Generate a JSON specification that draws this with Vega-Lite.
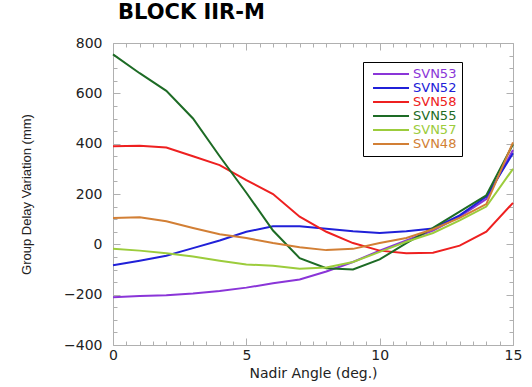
{
  "$schema": "https://vega.github.io/schema/vega-lite/v6.json",
  "width": 400,
  "height": 302,
  "autosize": "none",
  "padding": {"left": 113, "top": 43, "right": 19, "bottom": 42},
  "background": "white",
  "title": {"text": "BLOCK IIR-M", "anchor": "start", "frame": "group", "dx": 5, "offset": 13, "font": "DejaVu Sans", "fontSize": 21, "fontWeight": "bold", "color": "black"},
  "datasets": {
    "gdv": [
      {"series": "SVN53", "angle": 0, "gdv": -210}, {"series": "SVN53", "angle": 1, "gdv": -205}, {"series": "SVN53", "angle": 2, "gdv": -202}, {"series": "SVN53", "angle": 3, "gdv": -195}, {"series": "SVN53", "angle": 4, "gdv": -185}, {"series": "SVN53", "angle": 5, "gdv": -172}, {"series": "SVN53", "angle": 6, "gdv": -155}, {"series": "SVN53", "angle": 7, "gdv": -140}, {"series": "SVN53", "angle": 8, "gdv": -108}, {"series": "SVN53", "angle": 9, "gdv": -70}, {"series": "SVN53", "angle": 10, "gdv": -25}, {"series": "SVN53", "angle": 11, "gdv": 15}, {"series": "SVN53", "angle": 12, "gdv": 55}, {"series": "SVN53", "angle": 13, "gdv": 110}, {"series": "SVN53", "angle": 14, "gdv": 180}, {"series": "SVN53", "angle": 15, "gdv": 375},
      {"series": "SVN52", "angle": 0, "gdv": -83}, {"series": "SVN52", "angle": 1, "gdv": -65}, {"series": "SVN52", "angle": 2, "gdv": -45}, {"series": "SVN52", "angle": 3, "gdv": -15}, {"series": "SVN52", "angle": 4, "gdv": 15}, {"series": "SVN52", "angle": 5, "gdv": 50}, {"series": "SVN52", "angle": 6, "gdv": 72}, {"series": "SVN52", "angle": 7, "gdv": 72}, {"series": "SVN52", "angle": 8, "gdv": 62}, {"series": "SVN52", "angle": 9, "gdv": 52}, {"series": "SVN52", "angle": 10, "gdv": 45}, {"series": "SVN52", "angle": 11, "gdv": 52}, {"series": "SVN52", "angle": 12, "gdv": 63}, {"series": "SVN52", "angle": 13, "gdv": 115}, {"series": "SVN52", "angle": 14, "gdv": 190}, {"series": "SVN52", "angle": 15, "gdv": 362},
      {"series": "SVN58", "angle": 0, "gdv": 390}, {"series": "SVN58", "angle": 1, "gdv": 392}, {"series": "SVN58", "angle": 2, "gdv": 385}, {"series": "SVN58", "angle": 3, "gdv": 350}, {"series": "SVN58", "angle": 4, "gdv": 315}, {"series": "SVN58", "angle": 5, "gdv": 255}, {"series": "SVN58", "angle": 6, "gdv": 200}, {"series": "SVN58", "angle": 7, "gdv": 110}, {"series": "SVN58", "angle": 8, "gdv": 50}, {"series": "SVN58", "angle": 9, "gdv": 5}, {"series": "SVN58", "angle": 10, "gdv": -25}, {"series": "SVN58", "angle": 11, "gdv": -35}, {"series": "SVN58", "angle": 12, "gdv": -33}, {"series": "SVN58", "angle": 13, "gdv": -5}, {"series": "SVN58", "angle": 14, "gdv": 50}, {"series": "SVN58", "angle": 15, "gdv": 165},
      {"series": "SVN55", "angle": 0, "gdv": 755}, {"series": "SVN55", "angle": 1, "gdv": 680}, {"series": "SVN55", "angle": 2, "gdv": 610}, {"series": "SVN55", "angle": 3, "gdv": 500}, {"series": "SVN55", "angle": 4, "gdv": 350}, {"series": "SVN55", "angle": 5, "gdv": 205}, {"series": "SVN55", "angle": 6, "gdv": 55}, {"series": "SVN55", "angle": 7, "gdv": -55}, {"series": "SVN55", "angle": 8, "gdv": -95}, {"series": "SVN55", "angle": 9, "gdv": -100}, {"series": "SVN55", "angle": 10, "gdv": -60}, {"series": "SVN55", "angle": 11, "gdv": 5}, {"series": "SVN55", "angle": 12, "gdv": 65}, {"series": "SVN55", "angle": 13, "gdv": 130}, {"series": "SVN55", "angle": 14, "gdv": 195}, {"series": "SVN55", "angle": 15, "gdv": 398},
      {"series": "SVN57", "angle": 0, "gdv": -18}, {"series": "SVN57", "angle": 1, "gdv": -25}, {"series": "SVN57", "angle": 2, "gdv": -35}, {"series": "SVN57", "angle": 3, "gdv": -48}, {"series": "SVN57", "angle": 4, "gdv": -65}, {"series": "SVN57", "angle": 5, "gdv": -80}, {"series": "SVN57", "angle": 6, "gdv": -85}, {"series": "SVN57", "angle": 7, "gdv": -97}, {"series": "SVN57", "angle": 8, "gdv": -92}, {"series": "SVN57", "angle": 9, "gdv": -70}, {"series": "SVN57", "angle": 10, "gdv": -30}, {"series": "SVN57", "angle": 11, "gdv": 10}, {"series": "SVN57", "angle": 12, "gdv": 45}, {"series": "SVN57", "angle": 13, "gdv": 95}, {"series": "SVN57", "angle": 14, "gdv": 150}, {"series": "SVN57", "angle": 15, "gdv": 300},
      {"series": "SVN48", "angle": 0, "gdv": 105}, {"series": "SVN48", "angle": 1, "gdv": 108}, {"series": "SVN48", "angle": 2, "gdv": 92}, {"series": "SVN48", "angle": 3, "gdv": 65}, {"series": "SVN48", "angle": 4, "gdv": 40}, {"series": "SVN48", "angle": 5, "gdv": 25}, {"series": "SVN48", "angle": 6, "gdv": 5}, {"series": "SVN48", "angle": 7, "gdv": -12}, {"series": "SVN48", "angle": 8, "gdv": -23}, {"series": "SVN48", "angle": 9, "gdv": -18}, {"series": "SVN48", "angle": 10, "gdv": 5}, {"series": "SVN48", "angle": 11, "gdv": 25}, {"series": "SVN48", "angle": 12, "gdv": 60}, {"series": "SVN48", "angle": 13, "gdv": 105}, {"series": "SVN48", "angle": 14, "gdv": 160}, {"series": "SVN48", "angle": 15, "gdv": 405}
    ]
  },
  "data": {"name": "gdv"},
  "layer": [
    {
      "mark": {"type": "line", "strokeWidth": 2},
      "encoding": {
        "x": {
          "field": "angle", "type": "quantitative",
          "scale": {"domain": [0, 15], "nice": false, "zero": false},
          "axis": {
            "orient": "bottom",
            "values": [0, 0.5, 1, 1.5, 2, 2.5, 3, 3.5, 4, 4.5, 5, 5.5, 6, 6.5, 7, 7.5, 8, 8.5, 9, 9.5, 10, 10.5, 11, 11.5, 12, 12.5, 13, 13.5, 14, 14.5, 15],
            "labelExpr": "datum.value % 5 === 0 ? format(datum.value, 'd') : ''",
            "tickSize": {"condition": {"test": "datum.value % 5 === 0", "value": -7}, "value": -4},
            "labelPadding": 10,
            "title": "Nadir Angle (deg.)",
            "titleFont": "DejaVu Sans", "titleFontSize": 14, "titleFontWeight": "normal", "titlePadding": 1
          }
        },
        "y": {
          "field": "gdv", "type": "quantitative",
          "scale": {"domain": [-400, 800], "nice": false, "zero": false},
          "axis": {
            "orient": "left",
            "values": [-400, -350, -300, -250, -200, -150, -100, -50, 0, 50, 100, 150, 200, 250, 300, 350, 400, 450, 500, 550, 600, 650, 700, 750, 800],
            "labelExpr": "datum.value % 200 === 0 ? datum.label : ''",
            "tickSize": {"condition": {"test": "datum.value % 200 === 0", "value": -7}, "value": -4},
            "labelPadding": 18,
            "title": "Group Delay Variation (mm)",
            "titleFont": "Liberation Sans", "titleFontSize": 13, "titleFontWeight": "normal", "titlePadding": 30
          }
        },
        "color": {
          "field": "series", "type": "nominal",
          "scale": {
            "domain": ["SVN53", "SVN52", "SVN58", "SVN55", "SVN57", "SVN48"],
            "range": ["#8a35d8", "#2020d8", "#ee2020", "#1d6b25", "#9ccc3c", "#d27f35"]
          },
          "legend": {
            "orient": "none", "legendX": 250, "legendY": 19,
            "title": null,
            "strokeColor": "black", "fillColor": "white", "padding": 5,
            "symbolType": "M-0.33,0H5.67", "symbolSize": 144, "symbolStrokeWidth": 2,
            "labelFont": "DejaVu Sans", "labelFontSize": 13, "labelOffset": 31,
            "rowPadding": 0,
            "encode": {"labels": {"update": {"fill": {"scale": "color", "field": "value"}}}}
          }
        }
      }
    },
    {
      "mark": {"type": "line", "opacity": 0},
      "encoding": {
        "x": {
          "field": "angle", "type": "quantitative",
          "axis": {
            "orient": "top",
            "values": [0, 0.5, 1, 1.5, 2, 2.5, 3, 3.5, 4, 4.5, 5, 5.5, 6, 6.5, 7, 7.5, 8, 8.5, 9, 9.5, 10, 10.5, 11, 11.5, 12, 12.5, 13, 13.5, 14, 14.5, 15],
            "labels": false, "title": null,
            "tickSize": {"condition": {"test": "datum.value % 5 === 0", "value": -7}, "value": -4}
          }
        },
        "y": {
          "field": "gdv", "type": "quantitative",
          "axis": {
            "orient": "right",
            "values": [-400, -350, -300, -250, -200, -150, -100, -50, 0, 50, 100, 150, 200, 250, 300, 350, 400, 450, 500, 550, 600, 650, 700, 750, 800],
            "labels": false, "title": null,
            "tickSize": {"condition": {"test": "datum.value % 200 === 0", "value": -7}, "value": -4}
          }
        },
        "detail": {"field": "series"}
      }
    }
  ],
  "resolve": {"axis": {"x": "independent", "y": "independent"}},
  "config": {
    "view": {"stroke": null},
    "axis": {
      "grid": false,
      "domainColor": "#b0b0b0", "tickColor": "#b0b0b0",
      "labelFont": "DejaVu Sans", "labelFontSize": 14, "labelColor": "#222222",
      "titleColor": "#222222",
      "labelOverlap": false, "labelBound": false, "labelFlush": false
    }
  }
}
